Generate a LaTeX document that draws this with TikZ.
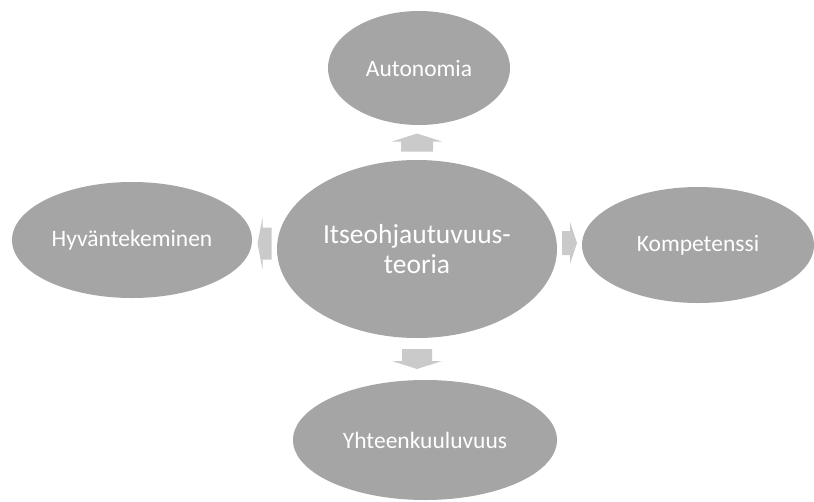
\documentclass[tikz,border=0pt]{standalone}
\usepackage{fontspec}
\setmainfont{Carlito}
\usetikzlibrary{shapes.geometric,calc}
\definecolor{ellgray}{HTML}{A5A5A5}
\definecolor{arrgray}{HTML}{CACACA}
\tikzset{
  ell/.style={ellipse, fill=ellgray, draw=none, inner sep=0pt, text=white, align=center, font=\fontsize{23.5}{28}\selectfont},
  blockarrow/.style={fill=arrgray, draw=none}
}
\begin{document}
\begin{tikzpicture}[x=1pt,y=-1pt]
\useasboundingbox (0,0) rectangle (814,501);
\node[ell, minimum width=280pt, minimum height=178pt, font=\fontsize{27.5}{30}\selectfont] (c) at (417,249) {Itseohjautuvuus-\\teoria};
\node[ell, minimum width=182pt, minimum height=114pt] (a) at (419,68) {Autonomia};
\node[ell, minimum width=240pt, minimum height=116pt] (h) at (132,240) {Hyväntekeminen};
\node[ell, minimum width=232pt, minimum height=116pt] (k) at (698,245) {Kompetenssi};
\node[ell, minimum width=264pt, minimum height=120pt] (y) at (425,440) {Yhteenkuuluvuus};
% arrow centres between the ellipses
\coordinate (ua0) at ($(c.north)!0.5!(a.south)$);
\coordinate (ua) at (c.north |- ua0);
\coordinate (db0) at ($(c.south)!0.5!(y.north)$);
\coordinate (db) at (c.south |- db0);
\coordinate (lh0) at ($(c.west)!0.5!(h.east)$);
\coordinate (lh) at ($(lh0)+(0,-1)$);
\coordinate (rk0) at ($(c.east)!0.5!(k.west)$);
\coordinate (rk) at ($(rk0)+(0,-4)$);
% up arrow
\fill[blockarrow, shift={(ua)}] (0,-9) -- (25,-1) -- (16,-1) -- (16,9) -- (-16,9) -- (-16,-1) -- (-25,-1) -- cycle;
% down arrow
\fill[blockarrow, shift={(db)}] (0,10) -- (25,2) -- (15,2) -- (15,-10) -- (-15,-10) -- (-15,2) -- (-25,2) -- cycle;
% left arrow
\fill[blockarrow, shift={(lh)}] (-7,0) -- (-2,-26) -- (-2,-16) -- (7,-16) -- (7,16) -- (-2,16) -- (-2,26) -- cycle;
% right arrow
\fill[blockarrow, shift={(rk)}] (7.5,0) -- (0.5,-21) -- (0.5,-12) -- (-7.5,-12) -- (-7.5,12) -- (0.5,12) -- (0.5,21) -- cycle;
\end{tikzpicture}
\end{document}
